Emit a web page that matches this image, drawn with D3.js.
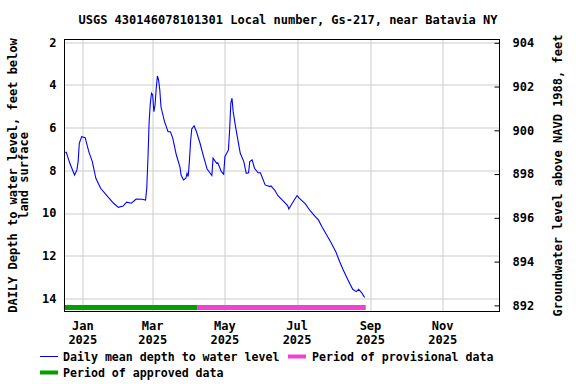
<!DOCTYPE html>
<html>
<head>
    <title>USGS Gs-217 Batavia NY</title>
    <script src="https://d3js.org/d3.v7.min.js"></script>
    <style>
        body { margin: 0; background: #fff; }
        text { font-family: "DejaVu Sans Mono", monospace; font-weight: bold; font-size: 12px; fill: #000; }
        .legend text { font-size: 11.6px; }
    </style>
</head>
<body>
    <svg width="576" height="384"></svg>

    <script>
        // daily mean depth to water
        var dates = [
            "2024-12-17", "2024-12-18", "2024-12-21", "2024-12-25", "2024-12-27", "2024-12-28", "2024-12-29", "2024-12-31",
            "2025-01-03", "2025-01-06", "2025-01-09", "2025-01-12", "2025-01-16", "2025-01-22", "2025-01-27", "2025-01-31",
            "2025-02-04", "2025-02-07", "2025-02-11", "2025-02-15", "2025-02-20", "2025-02-23", "2025-02-24", "2025-02-25",
            "2025-02-26", "2025-02-27", "2025-02-28", "2025-03-01", "2025-03-02", "2025-03-03", "2025-03-04", "2025-03-05",
            "2025-03-06", "2025-03-07", "2025-03-08", "2025-03-11", "2025-03-14", "2025-03-16", "2025-03-18", "2025-03-21",
            "2025-03-24", "2025-03-25", "2025-03-27", "2025-03-29", "2025-03-30", "2025-03-31", "2025-04-01", "2025-04-02",
            "2025-04-03", "2025-04-05", "2025-04-07", "2025-04-10", "2025-04-13", "2025-04-16", "2025-04-20", "2025-04-21",
            "2025-04-24", "2025-04-25", "2025-04-28", "2025-04-30", "2025-05-01", "2025-05-04", "2025-05-05", "2025-05-06",
            "2025-05-07", "2025-05-08", "2025-05-10", "2025-05-12", "2025-05-14", "2025-05-17", "2025-05-19", "2025-05-21",
            "2025-05-22", "2025-05-24", "2025-05-26", "2025-05-29", "2025-05-31", "2025-06-04", "2025-06-08", "2025-06-09",
            "2025-06-12", "2025-06-15", "2025-06-19", "2025-06-23", "2025-06-24", "2025-06-26", "2025-06-29", "2025-07-01",
            "2025-07-03", "2025-07-08", "2025-07-12", "2025-07-16", "2025-07-19", "2025-07-22", "2025-07-26", "2025-07-30",
            "2025-08-03", "2025-08-06", "2025-08-09", "2025-08-13", "2025-08-17", "2025-08-20", "2025-08-22", "2025-08-25",
            "2025-08-27"
        ];
        var depths = [
            7.15, 7.15, 7.67, 8.22, 7.98, 7.59, 6.73, 6.42,
            6.47, 7.12, 7.59, 8.37, 8.84, 9.23, 9.54, 9.73,
            9.67, 9.49, 9.54, 9.34, 9.35, 9.39, 8.84, 7.43,
            5.72, 4.86, 4.39, 4.47, 5.25, 4.94, 4.15, 3.58,
            3.77, 4.23, 5.02, 5.72, 6.19, 6.19, 6.50, 7.28,
            7.83, 8.22, 8.45, 8.37, 8.14, 8.29, 7.59, 6.66,
            6.06, 5.91, 6.19, 6.73, 7.36, 7.94, 8.24, 7.43,
            7.67, 7.64, 8.06, 8.18, 7.36, 7.04, 6.11, 4.86,
            4.62, 5.25, 5.95, 6.58, 7.20, 7.59, 8.14, 8.11,
            7.59, 7.51, 7.90, 8.11, 8.11, 8.68, 8.76, 8.73,
            8.92, 9.20, 9.42, 9.65, 9.81, 9.62, 9.35, 9.18,
            9.31, 9.57, 9.89, 10.14, 10.32, 10.64, 11.03, 11.41,
            11.85, 12.28, 12.67, 13.13, 13.57, 13.68, 13.57, 13.76,
            13.95
        ];

        // data-status periods
        var approvedPeriod = ["2024-12-16", "2025-04-08"];
        var provisionalPeriod = ["2025-04-08", "2025-08-28"];

        var xTickDates = ["2025-01-01", "2025-03-01", "2025-05-01", "2025-07-01", "2025-09-01", "2025-11-01"];
        var xTickMonths = ["Jan", "Mar", "May", "Jul", "Sep", "Nov"];
        var leftTicks = [2, 4, 6, 8, 10, 12, 14];
        var rightTicks = [892, 894, 896, 898, 900, 902, 904];

        var parseDate = d3.timeParse("%Y-%m-%d");

        var margin = {top: 39.5, right: 76.5, bottom: 72.5, left: 64.5},
            width = 576 - margin.left - margin.right,
            height = 384 - margin.top - margin.bottom;

        var x = d3.scaleTime()
            .domain([new Date(2024, 11, 16, 12), new Date(2025, 11, 19)])
            .range([0, width]);
        var y = d3.scaleLinear().domain([1.87, 14.61]).range([0, height]);
        var yRight = d3.scaleLinear().domain([891.72, 904.15]).range([height, 0]);

        var svg = d3.select("svg")
            .append("g")
            .attr("transform", "translate(" + margin.left + "," + margin.top + ")");

        // grid
        svg.append("g")
            .selectAll("line.hgrid")
            .data(leftTicks)
            .enter()
            .append("line")
            .attr("x1", 0).attr("x2", width)
            .attr("y1", function(d) { return Math.round(y(d)) + 0.5; })
            .attr("y2", function(d) { return Math.round(y(d)) + 0.5; })
            .attr("stroke", "#cccccc");
        svg.append("g")
            .selectAll("line.vgrid")
            .data(xTickDates)
            .enter()
            .append("line")
            .attr("y1", 0).attr("y2", height)
            .attr("x1", function(d) { return Math.round(x(parseDate(d))) + 0.5; })
            .attr("x2", function(d) { return Math.round(x(parseDate(d))) + 0.5; })
            .attr("stroke", "#cccccc");

        // left axis
        var leftAxis = svg.append("g")
            .call(d3.axisLeft(y).tickValues(leftTicks).tickSize(0).tickPadding(8));
        leftAxis.select(".domain").remove();
        leftAxis.selectAll("text").style("font-size", "12px").style("font-family", null);

        // right axis, inward ticks
        var rightAxis = svg.append("g")
            .attr("transform", "translate(" + width + ",0)")
            .call(d3.axisRight(yRight).tickValues(rightTicks).tickSizeInner(-5).tickSizeOuter(0).tickPadding(13));
        rightAxis.select(".domain").remove();
        rightAxis.selectAll("line").attr("stroke", "#000");
        rightAxis.selectAll("text").style("font-size", "12px").style("font-family", null);

        // bottom month labels
        var xLabels = svg.append("g")
            .selectAll("text.month")
            .data(xTickDates)
            .enter()
            .append("text")
            .attr("x", function(d) { return x(parseDate(d)); })
            .attr("y", height + 18)
            .style("text-anchor", "middle");
        xLabels.append("tspan")
            .attr("x", function(d) { return x(parseDate(d)); })
            .text(function(d, i) { return xTickMonths[i]; });
        xLabels.append("tspan")
            .attr("x", function(d) { return x(parseDate(d)); })
            .attr("dy", 14)
            .text(function(d) { return parseDate(d).getFullYear(); });

        // status bars
        var barY = height - 4;
        svg.append("line")
            .attr("x1", x(parseDate(approvedPeriod[0]))).attr("x2", x(parseDate(approvedPeriod[1])))
            .attr("y1", barY).attr("y2", barY)
            .attr("stroke", "#00a000").attr("stroke-width", 5);
        svg.append("line")
            .attr("x1", x(parseDate(provisionalPeriod[0]))).attr("x2", x(parseDate(provisionalPeriod[1])))
            .attr("y1", barY).attr("y2", barY)
            .attr("stroke", "#f040d8").attr("stroke-width", 5);

        // data line
        var points = dates.map(function(d, i) { return {date: parseDate(d), value: depths[i]}; });
        var valueline = d3.line()
            .x(function(d) { return x(d.date); })
            .y(function(d) { return y(d.value); });
        svg.append("path")
            .datum(points)
            .attr("fill", "none")
            .attr("stroke", "#0000ff")
            .attr("stroke-width", 1.1)
            .attr("d", valueline);

        // frame
        svg.append("rect")
            .attr("width", width).attr("height", height)
            .attr("fill", "none")
            .attr("stroke", "#000");

        // title and axis titles
        var root = d3.select("svg");
        root.append("text")
            .attr("x", 288).attr("y", 24)
            .style("text-anchor", "middle")
            .text("USGS 430146078101301 Local number, Gs-217, near Batavia NY");

        root.append("text")
            .attr("transform", "translate(16.5," + (margin.top + height / 2) + ") rotate(-90)")
            .style("text-anchor", "middle")
            .text("DAILY Depth to water level, feet below");
        root.append("text")
            .attr("transform", "translate(28," + (margin.top + height / 2) + ") rotate(-90)")
            .style("text-anchor", "middle")
            .text("land surface");
        root.append("text")
            .attr("transform", "translate(561.5," + (margin.top + height / 2) + ") rotate(-90)")
            .style("text-anchor", "middle")
            .text("Groundwater level above NAVD 1988, feet");

        // legend
        var legend = root.append("g").attr("class", "legend");
        legend.append("line")
            .attr("x1", 40).attr("x2", 58).attr("y1", 356.5).attr("y2", 356.5)
            .attr("stroke", "#0000ff");
        legend.append("text").attr("x", 63).attr("y", 361).text("Daily mean depth to water level");
        legend.append("line")
            .attr("x1", 288).attr("x2", 306).attr("y1", 356.5).attr("y2", 356.5)
            .attr("stroke", "#f040d8").attr("stroke-width", 4);
        legend.append("text").attr("x", 312).attr("y", 361).text("Period of provisional data");
        legend.append("line")
            .attr("x1", 40).attr("x2", 58).attr("y1", 372.5).attr("y2", 372.5)
            .attr("stroke", "#00a000").attr("stroke-width", 4);
        legend.append("text").attr("x", 63).attr("y", 377).text("Period of approved data");
    </script>
</body>
</html>
